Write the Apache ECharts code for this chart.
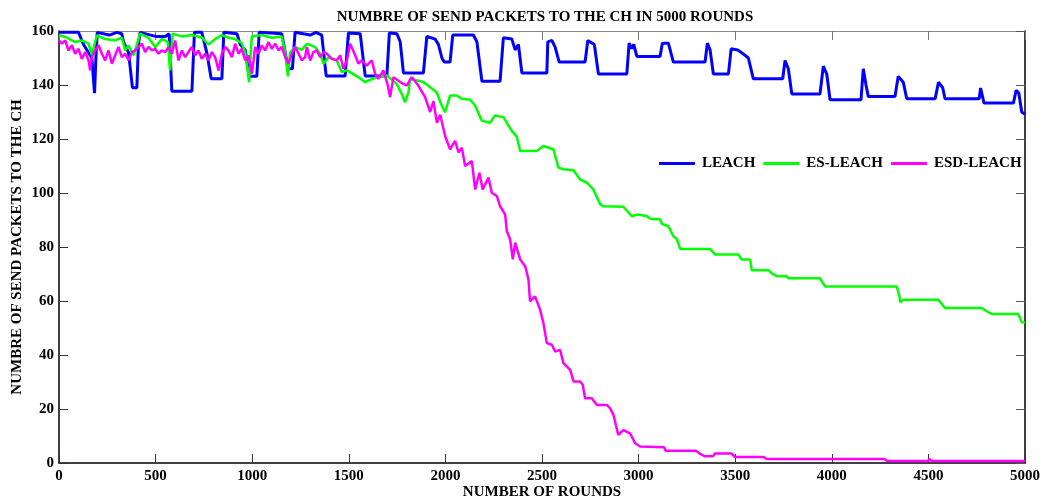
<!DOCTYPE html>
<html>
<head>
<meta charset="utf-8">
<title>Send packets to the CH</title>
<script src="https://cdn.jsdelivr.net/npm/echarts@6/dist/echarts.min.js"></script>
<style>
  html, body { margin: 0; padding: 0; background: #fff; }
  #chart { width: 1051px; height: 501px; }
</style>
</head>
<body>
<div id="chart"></div>
<script>
// rounds / values
const leachRounds = [0, 101, 127, 170, 184, 191, 198, 260, 300, 325, 334, 360, 380, 403, 411, 420, 500, 550, 570, 584, 688, 701, 739, 765, 788, 843, 853, 921, 938, 964, 984, 1024, 1036, 1153, 1171, 1185, 1208, 1222, 1300, 1330, 1360, 1383, 1481, 1498, 1559, 1585, 1697, 1710, 1749, 1766, 1783, 1886, 1904, 1947, 1964, 1982, 1994, 2024, 2038, 2145, 2163, 2189, 2283, 2300, 2344, 2361, 2378, 2396, 2525, 2530, 2551, 2568, 2589, 2723, 2737, 2771, 2792, 2939, 2951, 2965, 2975, 2991, 3111, 3123, 3154, 3180, 3344, 3356, 3370, 3387, 3465, 3479, 3513, 3542, 3568, 3594, 3746, 3758, 3775, 3793, 3939, 3956, 3974, 3991, 4151, 4163, 4177, 4189, 4327, 4344, 4370, 4388, 4535, 4552, 4574, 4586, 4763, 4770, 4788, 4940, 4954, 4968, 4983, 5000]
const leachValues = [159.5, 159.5, 155, 150, 137, 150, 159.5, 158.5, 159.5, 159, 156, 152, 139, 139, 155, 159.5, 158, 158, 159, 137.7, 137.7, 159.5, 159.5, 152, 142.3, 142.3, 159.5, 159, 155, 153, 143.2, 143.2, 159.5, 159, 152, 146, 146, 159.5, 158.5, 159.5, 158.5, 143.3, 143.3, 159.3, 159, 143.3, 143.3, 159.3, 159, 156, 144.4, 144.4, 158, 157, 155, 150, 148.5, 148.5, 158.5, 158.5, 156, 141.4, 141.4, 157.5, 157, 153, 155, 144.4, 144.4, 156, 156.5, 154, 148.5, 148.5, 156.5, 155, 144.1, 144.1, 155.5, 153.5, 155, 150.6, 150.6, 155.5, 155.5, 148.5, 148.5, 155.5, 153, 144.1, 144.1, 153.4, 153, 151.5, 150, 142.3, 142.3, 149.1, 146, 136.7, 136.7, 147, 144, 134.5, 134.5, 146, 140, 135.7, 135.7, 143.2, 141, 134.9, 134.9, 141, 139, 134.9, 134.9, 138.9, 133.3, 133.3, 138, 137, 130, 129.2]

const esRounds = [0, 32, 84, 118, 153, 170, 196, 239, 291, 325, 343, 360, 386, 420, 463, 498, 532, 563, 575, 588, 636, 688, 739, 774, 808, 843, 877, 912, 946, 964, 984, 998, 1050, 1102, 1153, 1171, 1185, 1196, 1222, 1257, 1283, 1326, 1352, 1369, 1395, 1438, 1464, 1490, 1550, 1584, 1645, 1697, 1748, 1774, 1791, 1809, 1817, 1886, 1921, 1955, 1981, 1998, 2024, 2059, 2085, 2128, 2154, 2188, 2231, 2257, 2300, 2343, 2369, 2387, 2473, 2507, 2559, 2585, 2611, 2663, 2697, 2732, 2766, 2801, 2818, 2921, 2965, 2991, 3042, 3059, 3111, 3120, 3154, 3180, 3198, 3215, 3370, 3396, 3516, 3534, 3577, 3586, 3672, 3689, 3715, 3767, 3775, 3939, 3965, 4336, 4350, 4355, 4370, 4551, 4586, 4776, 4802, 4828, 4965, 4983, 5000]
const esValues = [158.4, 157.8, 155.9, 156.5, 155.3, 151, 158.4, 157, 156.5, 157.5, 152.8, 154.7, 151, 159, 157.5, 154, 157, 156, 145.4, 159, 158, 158.5, 157.6, 155, 157, 158.5, 157.5, 157, 155.5, 152, 141, 158, 158.5, 157.5, 158, 152, 143.2, 152, 154, 153, 155.3, 154, 151.6, 147.9, 150.3, 149.1, 144.8, 145.4, 142.9, 141.1, 142.9, 143.5, 140.4, 136.7, 133.6, 137.3, 142.3, 141.1, 139.2, 137.3, 132.4, 129.9, 136.1, 136.1, 134.9, 134.5, 132.4, 126.8, 126, 128.7, 128.1, 123.1, 120.9, 115.6, 115.6, 117.4, 116.2, 109.4, 108.8, 108.4, 105, 103.8, 101.3, 95.8, 95.1, 94.9, 91.4, 92, 91.5, 90.5, 90.3, 88.6, 87.7, 84, 83, 79.3, 79.3, 77.2, 77.2, 75.4, 75.4, 71.4, 71.4, 70.2, 69.2, 69.2, 68.4, 68.4, 65.4, 65.4, 61.7, 59.5, 60.5, 60.5, 57.4, 57.4, 56.2, 55.2, 55.2, 52.1, 52]

const esdRounds = [0, 15, 32, 49, 67, 84, 101, 118, 136, 153, 161, 170, 187, 205, 222, 239, 256, 274, 291, 308, 325, 343, 360, 377, 394, 412, 429, 446, 463, 481, 498, 515, 532, 550, 567, 584, 601, 619, 636, 653, 670, 688, 705, 722, 739, 757, 774, 791, 808, 826, 843, 860, 877, 895, 912, 929, 946, 964, 981, 998, 1007, 1015, 1033, 1050, 1067, 1084, 1102, 1119, 1136, 1153, 1171, 1188, 1205, 1222, 1240, 1257, 1274, 1283, 1300, 1317, 1334, 1352, 1369, 1386, 1412, 1438, 1455, 1472, 1490, 1507, 1533, 1550, 1567, 1593, 1619, 1636, 1653, 1679, 1700, 1714, 1731, 1766, 1800, 1826, 1860, 1895, 1921, 1938, 1956, 1973, 1999, 2024, 2050, 2068, 2085, 2102, 2137, 2154, 2176, 2193, 2223, 2240, 2266, 2283, 2309, 2318, 2335, 2349, 2361, 2387, 2413, 2430, 2438, 2464, 2490, 2507, 2525, 2551, 2568, 2594, 2611, 2646, 2663, 2697, 2711, 2723, 2758, 2784, 2835, 2852, 2870, 2895, 2921, 2956, 2982, 3008, 3132, 3140, 3297, 3316, 3342, 3386, 3394, 3482, 3499, 3648, 3662, 4271, 4288, 4498, 4505, 4516, 5000]
const esdValues = [156.5, 155.3, 156.5, 152.8, 154.7, 151.6, 153.4, 149.7, 152.2, 149.1, 145.4, 150.3, 152.8, 154.7, 151.6, 149.1, 152.8, 147.9, 151, 154.1, 150.3, 151.6, 149.1, 152.2, 152.8, 154.1, 155.3, 152.2, 154.1, 152.8, 153.4, 151.6, 152.8, 152.2, 154.1, 151.6, 156.5, 149.1, 152.8, 150.3, 152.2, 154.1, 151, 152.8, 149.7, 151.6, 149.1, 152.2, 150.3, 145.4, 151.6, 154.1, 152.8, 150.3, 155.3, 151.6, 153.4, 149.1, 151, 144.2, 149.1, 154.1, 151.6, 154.7, 152.8, 155.9, 153.4, 155.3, 152.8, 154.1, 150.3, 147.9, 151.6, 154.1, 151.6, 149.1, 150.3, 154.1, 149.1, 152.2, 152.8, 150.3, 152.2, 151.6, 149.7, 149.1, 151, 146, 149.1, 155.3, 151, 147.9, 149.1, 147.2, 149.1, 144.2, 142.3, 145.4, 140.4, 135.5, 142.9, 141.1, 139.8, 142.9, 139.8, 135.5, 130, 134, 126, 129, 121, 116.2, 119.3, 115, 116.8, 110, 111.8, 101.3, 107.5, 101.3, 105.7, 100.1, 98.9, 95.1, 92.1, 85.9, 82.8, 75.4, 81.6, 75.4, 72.9, 67.9, 59.9, 61.7, 56.8, 51.9, 44.4, 43.8, 41.3, 41.9, 37, 34.5, 30.2, 30.2, 29, 24, 24, 21.5, 21.5, 20.3, 17.8, 10.4, 12.2, 11, 7.3, 6.1, 5.8, 4.5, 4.5, 3.5, 2.5, 2.5, 3.5, 3.5, 2.2, 2.2, 1.5, 1.5, 0.7, 0.7, 1.5, 0.7, 0.7]

const xTicks = { min: 0, max: 5000, interval: 500 }
const yTicks = { min: 0, max: 160, interval: 20 }

const serif = 'Liberation Serif'

function pairs(xs, ys) {
  return xs.map((x, i) => [x, ys[i]])
}

const chart = echarts.init(document.getElementById('chart'))

chart.setOption({
  animation: false,
  backgroundColor: '#fff',
  title: {
    text: 'NUMBRE OF SEND PACKETS TO THE CH IN 5000 ROUNDS',
    left: 540,
    textAlign: 'center',
    top: 5,
    textStyle: { fontFamily: serif, fontWeight: 'bold', fontSize: 15, color: '#000' }
  },
  legend: {
    left: 659,
    top: 156,
    padding: 0,
    icon: 'rect',
    itemWidth: 36,
    itemHeight: 3,
    itemGap: 8,
    textStyle: { fontFamily: serif, fontWeight: 'bold', fontSize: 15, color: '#000', padding: [0, 0, 0, 2] },
    data: ['LEACH', 'ES-LEACH', 'ESD-LEACH']
  },
  grid: { left: 59, right: 26, top: 31, bottom: 38, outerBoundsMode: 'none' },
  xAxis: [{
    type: 'value',
    min: xTicks.min,
    max: xTicks.max,
    interval: xTicks.interval,
    name: 'NUMBER OF ROUNDS',
    nameLocation: 'middle',
    nameGap: 22,
    nameMoveOverlap: false,
    nameTextStyle: { fontFamily: serif, fontWeight: 'bold', fontSize: 15, color: '#000' },
    axisLine: { onZero: false, lineStyle: { color: '#000', width: 1.5 } },
    axisTick: { inside: true, length: 9, lineStyle: { color: '#333' } },
    axisLabel: { fontFamily: serif, fontWeight: 'bold', fontSize: 15, color: '#000', margin: 6, formatter: v => String(v) },
    splitLine: { show: false }
  }, {
    type: 'value',
    position: 'top',
    min: xTicks.min,
    max: xTicks.max,
    interval: xTicks.interval,
    axisLine: { show: true, onZero: false, lineStyle: { color: '#888', width: 1 } },
    axisTick: { show: true, inside: true, length: 9, lineStyle: { color: '#777' } },
    axisLabel: { show: false },
    splitLine: { show: false }
  }],
  yAxis: [{
    type: 'value',
    min: yTicks.min,
    max: yTicks.max,
    interval: yTicks.interval,
    name: 'NUMBRE OF SEND PACKETS TO THE CH',
    nameLocation: 'middle',
    nameGap: 34,
    nameMoveOverlap: false,
    nameTextStyle: { fontFamily: serif, fontWeight: 'bold', fontSize: 15, color: '#000' },
    axisLine: { show: true, onZero: false, lineStyle: { color: '#000', width: 1.5 } },
    axisTick: { show: true, inside: true, length: 9, lineStyle: { color: '#333' } },
    axisLabel: { fontFamily: serif, fontWeight: 'bold', fontSize: 15, color: '#000', margin: 5 },
    splitLine: { show: false }
  }, {
    type: 'value',
    position: 'right',
    min: yTicks.min,
    max: yTicks.max,
    interval: yTicks.interval,
    axisLine: { show: true, onZero: false, lineStyle: { color: '#000', width: 1.5 } },
    axisTick: { show: true, inside: true, length: 9, lineStyle: { color: '#555' } },
    axisLabel: { show: false },
    splitLine: { show: false }
  }],
  series: [{
    name: 'LEACH',
    type: 'line',
    symbol: 'none',
    data: pairs(leachRounds, leachValues),
    itemStyle: { color: '#0000ff' },
    lineStyle: { color: '#0000ff', width: 3 }
  }, {
    name: 'ES-LEACH',
    type: 'line',
    symbol: 'none',
    data: pairs(esRounds, esValues),
    itemStyle: { color: '#00ff00' },
    lineStyle: { color: '#00ff00', width: 2.5 }
  }, {
    name: 'ESD-LEACH',
    type: 'line',
    symbol: 'none',
    data: pairs(esdRounds, esdValues),
    itemStyle: { color: '#ff00ff' },
    lineStyle: { color: '#ff00ff', width: 2.5 }
  }]
})
</script>
</body>
</html>
